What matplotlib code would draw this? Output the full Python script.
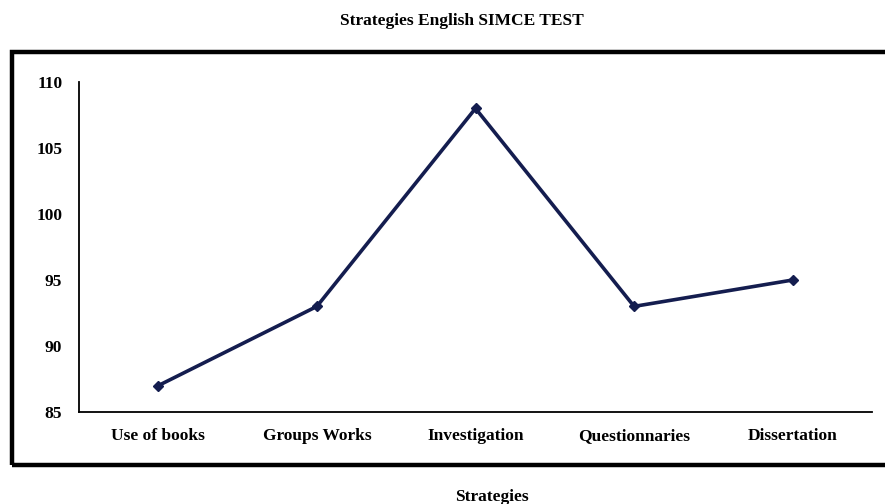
import matplotlib
matplotlib.use("Agg")
import matplotlib.pyplot as plt
from matplotlib.patches import Rectangle

strategies = ["Use of books", "Groups Works", "Investigation", "Questionnaries", "Dissertation"]
scores = [87, 93, 108, 93, 95]
yticks = [85, 90, 95, 100, 105, 110]

plt.rcParams["font.family"] = ["Liberation Serif", "DejaVu Serif"]
plt.rcParams["font.weight"] = "bold"

W, H = 885, 504
fig = plt.figure(figsize=(W / 100, H / 100), dpi=100)

# outer chart-area frame (Excel style), running past the right edge
fig.patches.append(Rectangle((12 / W, 1 - 465 / H), 890 / W, (465 - 52) / H,
                             transform=fig.transFigure, fill=False,
                             edgecolor="black", linewidth=3.2))

ax = fig.add_axes([79 / W, 1 - 412 / H, (872 - 79) / W, (412 - 82) / H])
x = range(len(strategies))
ax.plot(x, scores, "-D", color="#141d4f", linewidth=2.6, markersize=5.5, zorder=3)

ax.set_xlim(-0.5, len(strategies) - 0.5)
ax.set_ylim(85, 110)
ax.set_yticks(yticks)
ax.set_xticks(list(x))
ax.set_xticklabels(strategies, fontsize=12.5, fontweight="bold")
ax.set_yticklabels([str(t) for t in yticks], fontsize=12.5, fontweight="bold")
for lbl in ax.get_xticklabels():
    lbl.set_va("baseline")
ax.tick_params(length=0)
ax.tick_params(axis="y", pad=12)
ax.tick_params(axis="x", pad=20)
for s in ("top", "right"):
    ax.spines[s].set_visible(False)
for s in ("left", "bottom"):
    ax.spines[s].set_linewidth(1.3)

fig.text(462 / W, 1 - 21 / H, "Strategies English SIMCE TEST", ha="center", va="center",
         fontsize=12.5, fontweight="bold")
fig.text(492 / W, 1 - 497 / H, "Strategies", ha="center", va="center",
         fontsize=12.5, fontweight="bold")

fig.savefig("out.png", dpi=100)
